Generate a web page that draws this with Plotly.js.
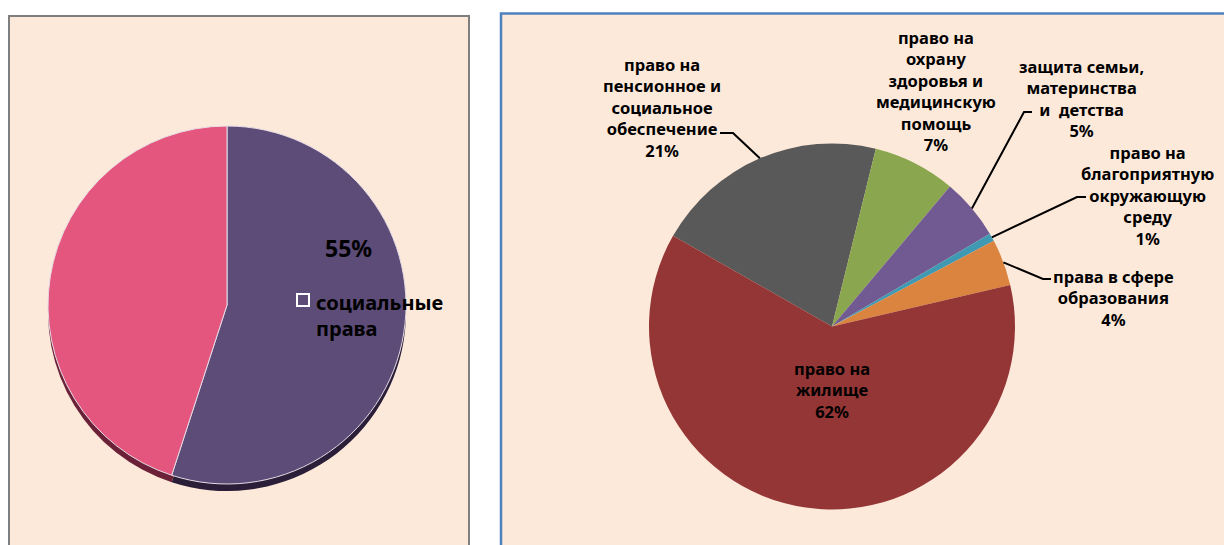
<!DOCTYPE html>
<html><head><meta charset="utf-8">
<script src="https://cdn.plot.ly/plotly-3.0.1.min.js"></script>
<style>html,body{margin:0;padding:0;background:#fff}</style>
</head><body><div id="chart" style="width:1224px;height:545px"></div>
<script>
// ---- data ----
const leftCategories = ['социальные права', 'другие'];
const leftValues = [55, 45];
const leftColors = ['#5D4B78', '#E5567F'];
const leftShadowColors = ['#2A1E38', '#6B2239'];

const rightCategories = [
  'право на пенсионное и социальное обеспечение',
  'право на охрану здоровья и медицинскую помощь',
  'защита семьи, материнства и  детства',
  'право на благоприятную окружающую среду',
  'права в сфере образования',
  'право на жилище'
];
const rightLabelText = [
  'право на<br>пенсионное и<br>социальное<br>обеспечение',
  'право на<br>охрану<br>здоровья и<br>медицинскую<br>помощь',
  'защита семьи,<br>материнства<br>и  детства',
  'право на<br>благоприятную<br>окружающую<br>среду',
  'права в сфере<br>образования',
  'право на<br>жилище'
];
const rightValues = [20.6, 7.3, 5.4, 0.7, 4.1, 61.9];
const rightColors = ['#595959', '#8AA74F', '#715A91', '#4099B3', '#DB843F', '#943635'];

// ---- layout geometry ----
const W = 1224, H = 545;
const FONT = 'Noto Sans, Open Sans, sans-serif';
const L = {cx: 227, cy: 305, r: 179};
const R = {cx: 832, cy: 326.5, r: 183, rot: -60.3};
function dom(g, dy) {
  dy = dy || 0;
  return {x: [(g.cx - g.r) / W, (g.cx + g.r) / W],
          y: [1 - (g.cy + dy + g.r) / H, 1 - (g.cy + dy - g.r) / H]};
}
const px = x => x / W, py = y => 1 - y / H;

const total = rightValues.reduce((a, b) => a + b, 0);
const pct = v => Math.round(v / total * 100) + '%';
// edge point at mid-angle of slice i (pixels)
function edgePt(i) {
  let cum = 0;
  for (let k = 0; k < i; k++) cum += rightValues[k];
  const a = (R.rot + 360 * (cum + rightValues[i] / 2) / total) * Math.PI / 180;
  return [R.cx + R.r * Math.sin(a), R.cy - R.r * Math.cos(a)];
}

// label placement (pixels) and leader elbows
const labelPos = [[662, 107], [936, 91], [1081, 98], [1147, 195], [1113, 298], [832, 390]];
const leaders = {0: [[720, 133], [733, 133]], 2: [[1032, 112], [1024, 112]],
                 3: [[1086, 197], [1077, 197]], 4: [[1051, 279], [1043, 279]]};

const traces = [
  {type: 'pie', values: leftValues, labels: leftCategories, sort: false,
   direction: 'clockwise', rotation: 0, domain: dom(L, 7),
   marker: {colors: leftShadowColors, line: {width: 0}},
   textinfo: 'none', hoverinfo: 'none', showlegend: false},
  {type: 'pie', values: leftValues, labels: leftCategories, sort: false,
   direction: 'clockwise', rotation: 0, domain: dom(L),
   marker: {colors: leftColors, line: {color: '#E6DCE6', width: 1}},
   textinfo: 'none', hoverinfo: 'none', showlegend: false},
  {type: 'pie', values: rightValues, labels: rightCategories, sort: false,
   direction: 'clockwise', rotation: R.rot, domain: dom(R),
   marker: {colors: rightColors, line: {width: 0}},
   textinfo: 'none', hoverinfo: 'none', showlegend: false}
];

const shapes = [
  {type: 'rect', xref: 'paper', yref: 'paper', layer: 'below',
   x0: px(9), x1: px(469), y0: -0.05, y1: py(16),
   line: {color: '#7F7F7F', width: 2}, fillcolor: '#FDE9DA'},
  {type: 'rect', xref: 'paper', yref: 'paper', layer: 'below',
   x0: px(501), x1: 1.05, y0: -0.05, y1: py(13.5),
   line: {color: '#4F81BD', width: 2.5}, fillcolor: '#FDE9DA'},
  {type: 'rect', xref: 'paper', yref: 'paper', layer: 'above',
   x0: px(297), x1: px(309), y0: py(306), y1: py(294),
   line: {color: '#FFFFFF', width: 2}, fillcolor: 'rgba(0,0,0,0)'}
];
Object.keys(leaders).forEach(k => {
  const i = +k, pts = leaders[k].concat([edgePt(i)]);
  const d = pts.map((p, j) => (j ? 'L' : 'M') + px(p[0]) + ',' + py(p[1])).join(' ');
  shapes.push({type: 'path', xref: 'paper', yref: 'paper', layer: 'above', path: d,
               line: {color: '#000000', width: 2}});
});

const annotations = rightLabelText.map((t, i) => ({
  xref: 'paper', yref: 'paper', x: px(labelPos[i][0]), y: py(labelPos[i][1]),
  xanchor: 'center', yanchor: 'middle', align: 'center', showarrow: false,
  text: '<b>' + t + '<br>' + pct(rightValues[i]) + '</b>',
  font: {family: FONT, size: 16.5, color: '#000000'}
}));
annotations.push({
  xref: 'paper', yref: 'paper', x: px(348), y: py(248), xanchor: 'center', yanchor: 'middle',
  showarrow: false, text: '<b>' + Math.round(leftValues[0] / (leftValues[0] + leftValues[1]) * 100) + '%</b>',
  font: {family: FONT, size: 23, color: '#000000'}
});
annotations.push({
  xref: 'paper', yref: 'paper', x: px(314), y: py(315), xanchor: 'left', yanchor: 'middle',
  align: 'left', showarrow: false, text: '<b>' + leftCategories[0].replace(' ', '<br>') + '</b>',
  font: {family: FONT, size: 20, color: '#000000'}
});

Plotly.newPlot('chart', traces, {
  width: W, height: H, margin: {l: 0, r: 0, t: 0, b: 0},
  paper_bgcolor: '#FFFFFF', showlegend: false,
  shapes: shapes, annotations: annotations
}, {displayModeBar: false, staticPlot: true});
</script></body></html>
